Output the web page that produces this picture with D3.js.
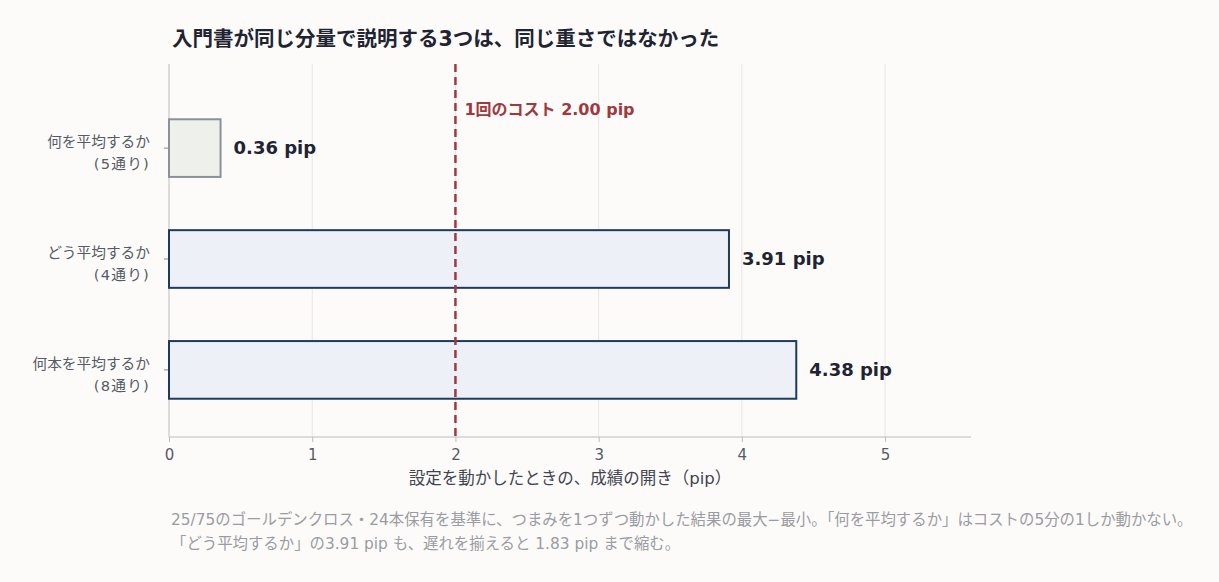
<!DOCTYPE html>
<html><head><meta charset="utf-8">
<script src="https://cdn.jsdelivr.net/npm/d3@7"></script>
<style>
html,body{margin:0;padding:0;background:#fcfbf9;}
svg{display:block;font-family:"DejaVu Sans","Noto Sans CJK JP",sans-serif;}
</style></head><body>
<svg id="c" width="1219" height="582"></svg>
<script>
const categories = ["何を平均するか", "どう平均するか", "何本を平均するか"];
const subLabels = ["(5通り)", "(4通り)", "(8通り)"];
const values = [0.36, 3.91, 4.38];
const valueLabels = ["0.36 pip", "3.91 pip", "4.38 pip"];
const xTicks = [0, 1, 2, 3, 4, 5];
const costValue = 2.0;
const costLabel = "1回のコスト 2.00 pip";
const title = "入門書が同じ分量で説明する3つは、同じ重さではなかった";
const xLabel = "設定を動かしたときの、成績の開き（pip）";
const caption = ["25/75のゴールデンクロス・24本保有を基準に、つまみを1つずつ動かした結果の最大−最小。「何を平均するか」はコストの5分の1しか動かない。",
  "「どう平均するか」の3.91 pip も、遅れを揃えると 1.83 pip まで縮む。"];

const svg = d3.select("#c");
const L = 169, R = 971, T = 64, B = 437;
const x = d3.scaleLinear().domain([0, 5.6]).range([L, R]);
const y = d3.scaleBand().domain(categories).range([86, 432]).paddingInner(0.48).paddingOuter(0.3);

svg.append("rect").attr("width",1219).attr("height",582).attr("fill","#fcfbf9");

// title
svg.append("text").attr("x",172).attr("y",46).attr("font-size",20.5).attr("font-weight",700)
  .attr("fill","#1f2433").text(title);

// grid
svg.append("g").selectAll("line").data(xTicks.slice(1)).join("line")
  .attr("x1",d=>x(d)).attr("x2",d=>x(d)).attr("y1",T).attr("y2",B)
  .attr("stroke","#e6e6e4").attr("stroke-width",1);

// x axis
const xa = svg.append("g").attr("transform",`translate(0,${B})`)
  .call(d3.axisBottom(x).tickValues(xTicks).tickFormat(d3.format("d")).tickSizeOuter(0).tickSize(5));
xa.select(".domain").attr("stroke","#bdbdbd").attr("d",`M${L},0H${R}`);
xa.selectAll(".tick line").attr("stroke","#bdbdbd");
xa.selectAll(".tick text").attr("fill","#555b66").attr("font-size",15).attr("dy","1.0em")
  .attr("font-family","'DejaVu Sans',sans-serif");

// y axis
const ya = svg.append("g").attr("transform",`translate(${L},0)`)
  .call(d3.axisLeft(y).tickSize(5).tickSizeOuter(0).tickFormat(""));
ya.select(".domain").attr("stroke","#bdbdbd").attr("d",`M0,${T}V${B}`);
ya.selectAll(".tick line").attr("stroke","#888");

const lab = svg.append("g");
categories.forEach((c,i)=>{
  const cy = y(c) + y.bandwidth()/2;
  const t = lab.append("text").attr("x",150).attr("text-anchor","end").attr("fill","#555b66").attr("font-size",14.7);
  t.append("tspan").attr("x",150).attr("y",cy-1).text(c);
  t.append("tspan").attr("x",150).attr("y",cy+21).attr("letter-spacing",1.2).text(subLabels[i]);
});

// bars
svg.append("g").selectAll("rect").data(values).join("rect")
  .attr("x",x(0)).attr("y",(d,i)=>y(categories[i]))
  .attr("width",d=>x(d)-x(0)).attr("height",y.bandwidth())
  .attr("fill",(d,i)=>i===0?"#eef0ec":"#edf0f6")
  .attr("stroke",(d,i)=>i===0?"#8c9099":"#1f3a5f").attr("stroke-width",2);

svg.append("g").selectAll("text").data(values).join("text")
  .attr("x",d=>x(d)+13).attr("y",(d,i)=>y(categories[i])+y.bandwidth()/2)
  .attr("dy","0.33em").attr("font-size",18).attr("font-weight",700).attr("fill","#1f2433")
  .text((d,i)=>valueLabels[i]);

// cost line
svg.append("line").attr("x1",x(costValue)).attr("x2",x(costValue)).attr("y1",T).attr("y2",B)
  .attr("stroke","#a0393f").attr("stroke-width",2.5).attr("stroke-dasharray","8,5");
svg.append("text").attr("x",x(costValue)+9).attr("y",115).attr("font-size",16).attr("font-weight",700)
  .attr("fill","#a0393f").text(costLabel);

// x label
svg.append("text").attr("x",(L+R)/2).attr("y",484).attr("text-anchor","middle").attr("font-size",16.5)
  .attr("fill","#3f4450").text(xLabel);

// caption
svg.append("g").selectAll("text").data(caption).join("text")
  .attr("x",171).attr("y",(d,i)=>525+i*24).attr("font-size",15.4).attr("fill","#9a9ca3").text(d=>d);
</script>
</body></html>
